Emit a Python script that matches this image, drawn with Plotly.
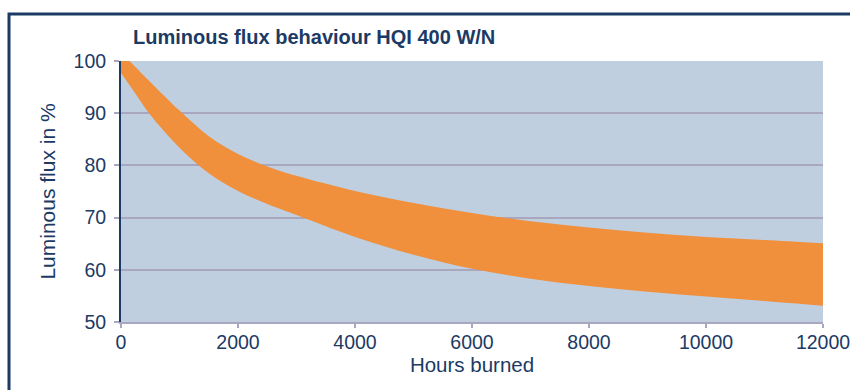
import plotly.graph_objects as go

# Burning hours and the limits of the luminous flux band (% of initial flux)
hours = [0, 200, 500, 1000, 1500, 2000, 2500, 3000, 4000, 5000, 6000,
         7000, 8000, 9000, 10000, 11000, 12000]
flux_upper = [101.7, 99.4, 96.0, 90.5, 85.6, 82.2, 79.8, 78.0, 75.1, 72.8, 70.9,
              69.3, 68.1, 67.1, 66.3, 65.7, 65.1]
flux_lower = [97.7, 94.5, 89.7, 83.4, 78.5, 75.1, 72.6, 70.5, 66.3, 62.9, 60.2,
              58.3, 56.9, 55.8, 54.9, 54.0, 53.1]

x_ticks = [0, 2000, 4000, 6000, 8000, 10000, 12000]
x_tick_text = ["0", "2000", "4000", "6000", "8000", "10000", "12000"]
y_ticks = [50, 60, 70, 80, 90, 100]

NAVY = "#1B3A64"
ORANGE = "#F0903C"
GRID = "#A9A7C0"
PLOT_BG = "#BFCFE0"
FONT = "Liberation Sans, Arial, sans-serif"

fig = go.Figure()
fig.add_trace(go.Scatter(
    x=hours, y=flux_lower, mode="lines", line=dict(width=0, shape="spline"),
    hoverinfo="skip", showlegend=False))
fig.add_trace(go.Scatter(
    x=hours, y=flux_upper, mode="lines", line=dict(width=0, shape="spline"),
    fill="tonexty", fillcolor=ORANGE, hoverinfo="skip", showlegend=False))

W, H = 850, 390
L, R, T, B = 121, 27, 61, 68
pw, ph = W - L - R, H - T - B


def px_x(p):
    return (p - L) / pw


def px_y(p):
    return (H - B - p) / ph


# Outer frame around the whole chart
fig.add_shape(type="rect", xref="paper", yref="paper",
              x0=px_x(9), x1=px_x(880), y0=px_y(420), y1=px_y(14),
              line=dict(color=NAVY, width=3), fillcolor="rgba(0,0,0,0)",
              layer="above")

fig.update_layout(
    width=W, height=H,
    margin=dict(l=L, r=R, t=T, b=B, autoexpand=False),
    paper_bgcolor="white",
    plot_bgcolor=PLOT_BG,
    font=dict(family=FONT, color=NAVY, size=19.5),
    title=dict(text="<b>Luminous flux behaviour HQI 400 W/N</b>",
               xref="paper", x=px_x(133), xanchor="left",
               yref="container", y=1 - 37 / H, yanchor="middle",
               font=dict(family=FONT, size=20, color=NAVY)),
    xaxis=dict(range=[0, 12000], tickvals=x_ticks, ticktext=x_tick_text,
               automargin=False, ticklabeloverflow="allow",
               showgrid=False, zeroline=False, showline=True, linecolor=GRID,
               linewidth=1.5, ticks="outside", ticklen=4, tickcolor=GRID,
               tickwidth=1.5, tickfont=dict(size=19.5), ticklabelstandoff=-2,
               title=dict(text="Hours burned", font=dict(size=20.5), standoff=0)),
    yaxis=dict(range=[50, 100], tickvals=y_ticks, showgrid=True,
               automargin=False,
               gridcolor=GRID, gridwidth=1.5, zeroline=False,
               showline=True, linecolor=NAVY, linewidth=2,
               ticks="outside", ticklen=5, tickcolor=GRID, tickwidth=1.5,
               tickfont=dict(size=19.5), ticklabelstandoff=4,
               title=dict(text="Luminous flux in %", font=dict(size=21), standoff=12)),
)

fig.write_html("out.html")
